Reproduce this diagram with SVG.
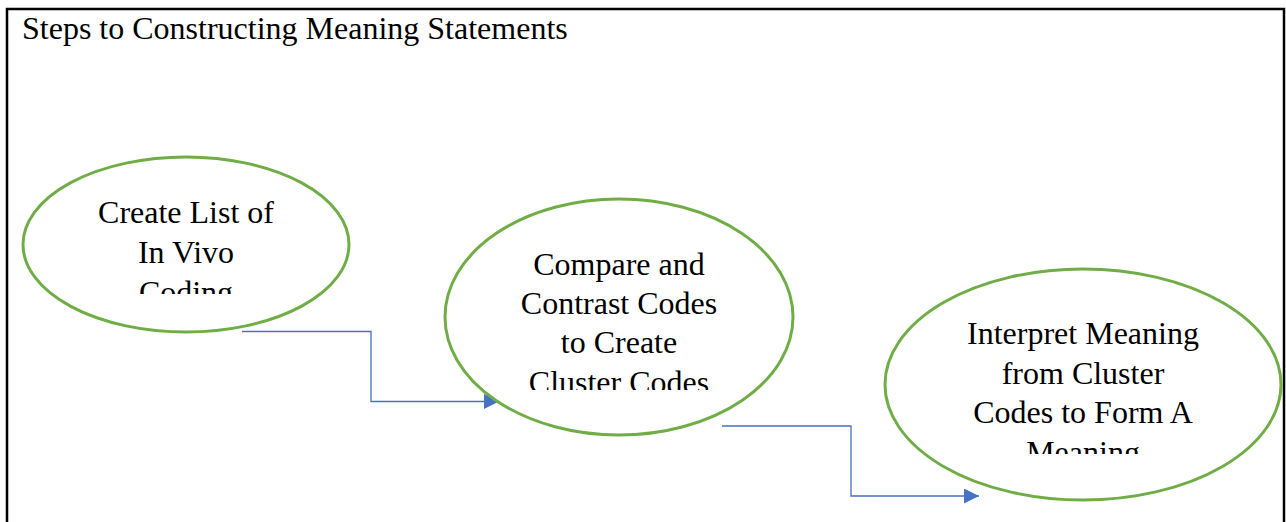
<svg xmlns="http://www.w3.org/2000/svg" width="1286" height="522" viewBox="0 0 1286 522">
<style>
.t{font-family:"Liberation Serif","Times New Roman",serif;font-size:32px;fill:#000}
.c{text-anchor:middle}
.node{fill:none;stroke:#70AD47;stroke-width:3}
.conn{fill:none;stroke:#4472C4;stroke-width:1.3}
</style>
<defs>
<marker id="arr" markerWidth="16" markerHeight="16" refX="15" refY="7.5" orient="auto" markerUnits="userSpaceOnUse">
<path d="M0,0 L15,7.5 L0,15 z" fill="#4472C4"/>
</marker>
<clipPath id="c1"><rect x="40" y="160" width="300" height="134"/></clipPath>
<clipPath id="c2"><rect x="460" y="200" width="320" height="190"/></clipPath>
<clipPath id="c3"><rect x="900" y="270" width="370" height="184"/></clipPath>
</defs>
<rect x="0" y="0" width="1286" height="522" fill="#fff"/>
<path d="M7,522 V9 H1284 V522" fill="none" stroke="#000" stroke-width="2.5"/>
<text class="t" x="22" y="39">Steps to Constructing Meaning Statements</text>
<g id="connectors">
<path class="conn" d="M242,331.5 H371 V401.5 H499" marker-end="url(#arr)"/>
<path class="conn" d="M722,426 H851 V496 H979" marker-end="url(#arr)"/>
</g>
<g id="node1">
<ellipse class="node" cx="186" cy="244.5" rx="163" ry="87.5"/>
<g clip-path="url(#c1)">
<text class="t c" x="186" y="223">Create List of</text>
<text class="t c" x="186" y="263">In Vivo</text>
<text class="t c" x="186" y="303">Coding</text>
</g>
</g>
<g id="node2">
<ellipse class="node" cx="619" cy="317" rx="174" ry="118"/>
<g clip-path="url(#c2)">
<text class="t c" x="619" y="275">Compare and</text>
<text class="t c" x="619" y="314">Contrast Codes</text>
<text class="t c" x="619" y="353">to Create</text>
<text class="t c" x="619" y="393">Cluster Codes</text>
</g>
</g>
<g id="node3">
<ellipse class="node" cx="1083" cy="384.5" rx="198" ry="115.5"/>
<g clip-path="url(#c3)">
<text class="t c" x="1083" y="344">Interpret Meaning</text>
<text class="t c" x="1083" y="384">from Cluster</text>
<text class="t c" x="1083" y="423">Codes to Form A</text>
<text class="t c" x="1083" y="463">Meaning</text>
</g>
</g>
</svg>
